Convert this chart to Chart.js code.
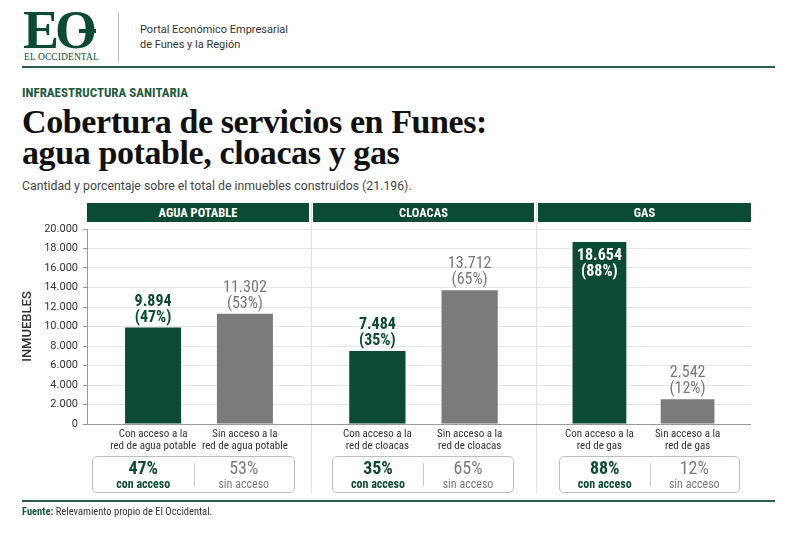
<!DOCTYPE html>
<html lang="es">
<head>
<meta charset="UTF-8" />
<title>Cobertura de servicios en Funes</title>
<script src="https://cdn.jsdelivr.net/npm/chart.js"></script>
<style>
  html, body { margin: 0; padding: 0; background: #fff; }
  body { width: 800px; height: 533px; position: relative; overflow: hidden;
         font-family: Roboto, "Liberation Sans", sans-serif; color: #222; }
  .abs { position: absolute; }
  .cond { font-family: "Liberation Sans Narrow", "Roboto Condensed", Roboto, sans-serif; }
  .logo { left: 23px; top: 3px; font-family: "Liberation Serif", serif; font-weight: bold;
          font-size: 54px; line-height: 54px; color: #0b4a33; letter-spacing: -4px; }
  .logo-bar { left: 79px; top: 29px; width: 17px; height: 4px; background: #0b4a33; }
  .logo-sub { left: 24px; top: 52px; font-family: "Liberation Serif", serif; font-size: 9.5px;
              line-height: 11px; color: #0b4a33; letter-spacing: 0.1px; }
  .vsep { left: 118px; top: 13px; width: 1px; height: 49px; background: #bbb; }
  .portal { left: 140px; top: 22px; font-size: 11px; line-height: 15px; color: #333; }
  .rule { left: 22px; width: 753px; height: 1.5px; background: #2d5f47; }
  .kicker { left: 22px; top: 86px; font-size: 13px; line-height: 14px; font-weight: bold; color: #1d5a3d; }
  .title { left: 22px; top: 106px; font-family: "Liberation Serif", serif; font-weight: bold;
           font-size: 34px; line-height: 31px; color: #111; letter-spacing: -0.4px; }
  .subtitle { left: 22px; top: 179px; font-size: 12.3px; line-height: 15px; color: #444; }
  .head { top: 203px; height: 19px; line-height: 19px; background: #0b4a33; color: #fff;
          font-size: 12.5px; font-weight: bold; text-align: center; z-index: 2; }
  .divider { top: 203px; width: 1px; height: 290px; background: #dedede; }
  .chartbox { top: 215px; height: 250px; }
  .sumbox { top: 456px; height: 37px; box-sizing: border-box; border: 1px solid #bdbdbd;
            border-radius: 5px; display: flex; }
  .half { flex: 1; text-align: center; padding-top: 2px; position: relative; }
  .half + .half::before { content: ""; position: absolute; left: 0; top: 6px; bottom: 6px;
                          width: 1px; background: #c8c8c8; }
  .pct { font-size: 18px; line-height: 18px; }
  .lbl { font-size: 12px; line-height: 14px; }
  .con { color: #0b4a33; font-weight: bold; }
  .sin { color: #7a7a7a; }
  .fuente { left: 22px; top: 506px; font-size: 10.5px; line-height: 12px; color: #333; }
  .fuente b { color: #1d5a3d; }
</style>
</head>
<body>
  <div class="abs logo">EO</div>
  <div class="abs logo-bar"></div>
  <div class="abs logo-sub">EL OCCIDENTAL</div>
  <div class="abs vsep"></div>
  <div class="abs portal">Portal Económico Empresarial<br />de Funes y la Región</div>
  <div class="abs rule" style="top: 66px"></div>

  <div class="abs kicker cond">INFRAESTRUCTURA SANITARIA</div>
  <div class="abs title">Cobertura de servicios en Funes:<br />agua potable, cloacas y gas</div>
  <div class="abs subtitle">Cantidad y porcentaje sobre el total de inmuebles construidos (21.196).</div>

  <div id="panels"></div>

  <div class="abs rule" style="top: 500px"></div>
  <div class="abs fuente cond"><b>Fuente:</b> Relevamiento propio de El Occidental.</div>

<script>
  // data
  var services = ["AGUA POTABLE", "CLOACAS", "GAS"];
  var conLabels = [
    ["Con acceso a la", "red de agua potable"],
    ["Con acceso a la", "red de cloacas"],
    ["Con acceso a la", "red de gas"],
  ];
  var sinLabels = [
    ["Sin acceso a la", "red de agua potable"],
    ["Sin acceso a la", "red de cloacas"],
    ["Sin acceso a la", "red de gas"],
  ];
  var conAcceso = [9894, 7484, 18654];
  var sinAcceso = [11302, 13712, 2542];
  var conPct = [47, 35, 88];
  var sinPct = [53, 65, 12];
  var yMin = 0, yMax = 20000, yStep = 2000;

  // layout of the three panels (canvas left/width, header, summary box)
  var panels = [
    { left: 0, width: 311, axis: 87, head: [87, 222], box: [92, 203] },
    { left: 311, width: 225, axis: 0, head: [313, 221], box: [332, 182] },
    { left: 536, width: 215, axis: 0, head: [538, 213], box: [559, 181] },
  ];

  var GREEN = "#0b4a33";
  var GRAY = "#7b7b7b";
  var COND = '"Liberation Sans Narrow", "Roboto Condensed", Roboto, sans-serif';

  function fmt(n) {
    return String(n).replace(/\B(?=(\d{3})+(?!\d))/g, ".");
  }

  // value labels above bars + category text under bars
  var barText = {
    id: "barText",
    afterDatasetsDraw: function (chart) {
      var ctx = chart.ctx, area = chart.chartArea;
      chart.data.datasets.forEach(function (ds, di) {
        var bar = chart.getDatasetMeta(di).data[0];
        var isCon = di === 0;
        ctx.save();
        ctx.textAlign = "center";
        ctx.textBaseline = "middle";
        ctx.font = (isCon ? "bold " : "") + "16px " + COND;
        ctx.fillStyle = isCon ? GREEN : "#777";
        var y1 = bar.y - 26, y2 = bar.y - 10;
        if (y1 - 9 < 8) {
          // no room under the header: write inside the bar
          y1 = bar.y + 14; y2 = bar.y + 30;
          ctx.fillStyle = "#fff";
        }
        ctx.fillText(fmt(ds.data[0]), bar.x, y1);
        ctx.fillText("(" + ds.pct + "%)", bar.x, y2);
        ctx.font = "11px " + COND;
        ctx.fillStyle = "#333";
        ds.under.forEach(function (t, k) {
          ctx.fillText(t, bar.x, area.bottom + 10 + k * 12);
        });
        ctx.restore();
      });
    },
  };

  var holder = document.getElementById("panels");

  panels.forEach(function (p, i) {
    var first = i === 0;

    var head = document.createElement("div");
    head.className = "abs head cond";
    head.style.left = p.head[0] + "px";
    head.style.width = p.head[1] + "px";
    head.textContent = services[i];
    holder.appendChild(head);

    if (!first) {
      var dv = document.createElement("div");
      dv.className = "abs divider";
      dv.style.left = p.left + "px";
      holder.appendChild(dv);
    }

    var box = document.createElement("div");
    box.className = "abs chartbox";
    box.style.left = p.left + "px";
    box.style.width = p.width + "px";
    var cv = document.createElement("canvas");
    cv.width = p.width;
    cv.height = 250;
    box.appendChild(cv);
    holder.appendChild(box);

    var sum = document.createElement("div");
    sum.className = "abs sumbox cond";
    sum.style.left = p.box[0] + "px";
    sum.style.width = p.box[1] + "px";
    sum.innerHTML =
      '<div class="half"><div class="pct con">' + conPct[i] + '%</div><div class="lbl con">con acceso</div></div>' +
      '<div class="half"><div class="pct sin">' + sinPct[i] + '%</div><div class="lbl sin">sin acceso</div></div>';
    holder.appendChild(sum);

    new Chart(cv, {
      type: "bar",
      data: {
        labels: [services[i]],
        datasets: [
          { label: "Con acceso", data: [conAcceso[i]], backgroundColor: GREEN, pct: conPct[i], under: conLabels[i] },
          { label: "Sin acceso", data: [sinAcceso[i]], backgroundColor: GRAY, pct: sinPct[i], under: sinLabels[i] },
        ],
      },
      options: {
        responsive: false,
        animation: false,
        layout: { padding: { top: 14, bottom: 41, left: 0, right: 0 } },
        datasets: { bar: { categoryPercentage: 0.82, barPercentage: 0.61 } },
        plugins: { legend: { display: false }, tooltip: { enabled: false } },
        scales: {
          x: { display: false },
          y: {
            min: yMin,
            max: yMax,
            ticks: {
              display: first,
              stepSize: yStep,
              color: "#333",
              padding: 5,
              font: { family: "Roboto", size: 11 },
              callback: function (v) { return fmt(v); },
            },
            grid: {
              color: function (c) { return c.tick && c.tick.value === 0 ? "#9a9a9a" : "#e6e6e6"; },
              drawTicks: first,
              tickLength: 4,
              tickColor: "#999",
            },
            border: { display: first, color: "#9a9a9a" },
            title: {
              display: first,
              text: "INMUEBLES",
              color: "#333",
              font: { family: "Roboto", size: 13, weight: "500" },
              padding: { top: 19.5, bottom: 0 },
            },
            afterFit: function (s) { s.width = p.axis; },
          },
        },
      },
      plugins: [barText],
    });
  });
</script>
</body>
</html>
